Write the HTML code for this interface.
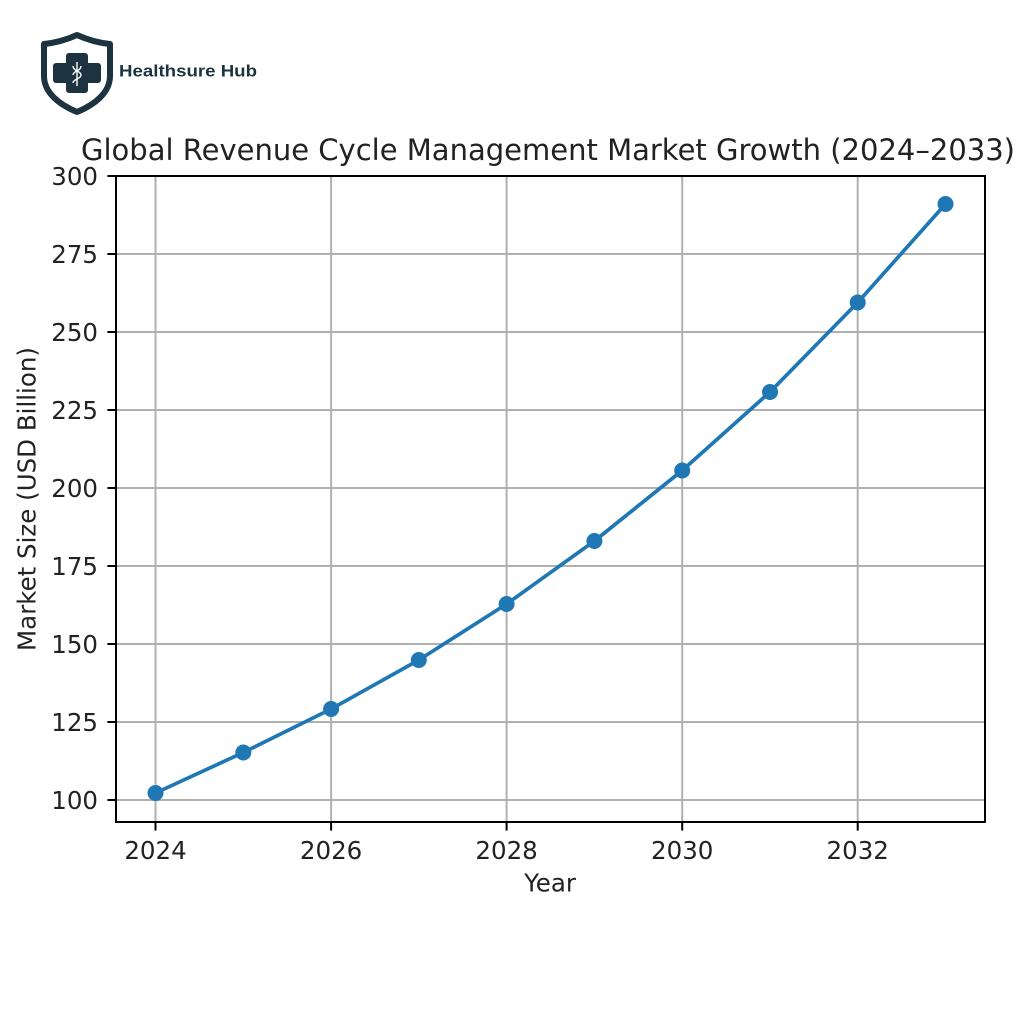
<!DOCTYPE html>
<html><head><meta charset="utf-8"><style>
html,body{margin:0;padding:0;background:#fff;}
svg{display:block;}
</style></head><body>
<svg width="1024" height="1024" viewBox="0 0 1024 1024" xmlns="http://www.w3.org/2000/svg">
<rect width="1024" height="1024" fill="#fff"/>
<!-- Logo -->
<g>
<path d="M77,35 C88,40 100,43 110,44 L110,76 C110,92 96,104 77,112 C58,104 44,92 44,76 L44,44 C54,43 66,40 77,35 Z" fill="#fff" stroke="#1d3440" stroke-width="6" stroke-linejoin="round"/>
<path d="M69,53 h16 a3,3 0 0 1 3,3 v7 h10 a3,3 0 0 1 3,3 v14 a3,3 0 0 1 -3,3 h-10 v7 a3,3 0 0 1 -3,3 h-16 a3,3 0 0 1 -3,-3 v-7 h-10 a3,3 0 0 1 -3,-3 v-14 a3,3 0 0 1 3,-3 h10 v-7 a3,3 0 0 1 3,-3 Z" fill="#1d3440"/>
<path d="M77,62 L77,86 M73,66 C73,71 81,71 81,75 C81,79 73,79 73,83 M81,66 C81,71 73,71 73,75" fill="none" stroke="#fff" stroke-width="1.4"/>
<text x="119" y="76.5" font-family="Liberation Sans, sans-serif" font-weight="bold" font-size="17" fill="#1d3440" textLength="138" lengthAdjust="spacingAndGlyphs">Healthsure Hub</text>
</g>
<!-- Title -->
<text x="548" y="160" text-anchor="middle" font-family="DejaVu Sans, sans-serif" font-size="29.4" fill="#222" textLength="934" lengthAdjust="spacingAndGlyphs">Global Revenue Cycle Management Market Growth (2024–2033)</text>
<!-- Grid -->
<g stroke="#b0b0b0" stroke-width="2">
<line x1="155.5" y1="176" x2="155.5" y2="822"/>
<line x1="331.1" y1="176" x2="331.1" y2="822"/>
<line x1="506.6" y1="176" x2="506.6" y2="822"/>
<line x1="682.2" y1="176" x2="682.2" y2="822"/>
<line x1="857.7" y1="176" x2="857.7" y2="822"/>
<line x1="116" y1="800" x2="985" y2="800"/>
<line x1="116" y1="722" x2="985" y2="722"/>
<line x1="116" y1="644" x2="985" y2="644"/>
<line x1="116" y1="566" x2="985" y2="566"/>
<line x1="116" y1="488" x2="985" y2="488"/>
<line x1="116" y1="410" x2="985" y2="410"/>
<line x1="116" y1="332" x2="985" y2="332"/>
<line x1="116" y1="254" x2="985" y2="254"/>
</g>
<!-- Data -->
<polyline points="155.5,793 243.3,752.5 331.1,709 418.8,660 506.6,604 594.4,541 682.2,470.5 770,392 857.7,302.5 945.5,204" fill="none" stroke="#1f77b4" stroke-width="3.7" stroke-linejoin="round"/>
<g fill="#1f77b4">
<circle cx="155.5" cy="793" r="8"/>
<circle cx="243.3" cy="752.5" r="8"/>
<circle cx="331.1" cy="709" r="8"/>
<circle cx="418.8" cy="660" r="8"/>
<circle cx="506.6" cy="604" r="8"/>
<circle cx="594.4" cy="541" r="8"/>
<circle cx="682.2" cy="470.5" r="8"/>
<circle cx="770" cy="392" r="8"/>
<circle cx="857.7" cy="302.5" r="8"/>
<circle cx="945.5" cy="204" r="8"/>
</g>
<!-- Axes frame -->
<rect x="116" y="176" width="869" height="646" fill="none" stroke="#000" stroke-width="2"/>
<!-- Ticks -->
<g stroke="#000" stroke-width="2">
<line x1="107.4" y1="800" x2="116" y2="800"/>
<line x1="107.4" y1="722" x2="116" y2="722"/>
<line x1="107.4" y1="644" x2="116" y2="644"/>
<line x1="107.4" y1="566" x2="116" y2="566"/>
<line x1="107.4" y1="488" x2="116" y2="488"/>
<line x1="107.4" y1="410" x2="116" y2="410"/>
<line x1="107.4" y1="332" x2="116" y2="332"/>
<line x1="107.4" y1="254" x2="116" y2="254"/>
<line x1="107.4" y1="176" x2="116" y2="176"/>
<line x1="155.5" y1="822" x2="155.5" y2="830.6"/>
<line x1="331.1" y1="822" x2="331.1" y2="830.6"/>
<line x1="506.6" y1="822" x2="506.6" y2="830.6"/>
<line x1="682.2" y1="822" x2="682.2" y2="830.6"/>
<line x1="857.7" y1="822" x2="857.7" y2="830.6"/>
</g>
<g font-family="DejaVu Sans, sans-serif" font-size="24.5" fill="#222" text-anchor="end">
<text x="98" y="808.9">100</text>
<text x="98" y="730.9">125</text>
<text x="98" y="652.9">150</text>
<text x="98" y="574.9">175</text>
<text x="98" y="496.9">200</text>
<text x="98" y="418.9">225</text>
<text x="98" y="340.9">250</text>
<text x="98" y="262.9">275</text>
<text x="98" y="184.9">300</text>
</g>
<g font-family="DejaVu Sans, sans-serif" font-size="24.5" fill="#222" text-anchor="middle">
<text x="155.5" y="859">2024</text>
<text x="331.1" y="859">2026</text>
<text x="506.6" y="859">2028</text>
<text x="682.2" y="859">2030</text>
<text x="857.7" y="859">2032</text>
<text x="550" y="891.5">Year</text>
</g>
<text x="0" y="0" transform="translate(35.5,499) rotate(-90)" text-anchor="middle" font-family="DejaVu Sans, sans-serif" font-size="24.5" fill="#222">Market Size (USD Billion)</text>
</svg>
</body></html>
